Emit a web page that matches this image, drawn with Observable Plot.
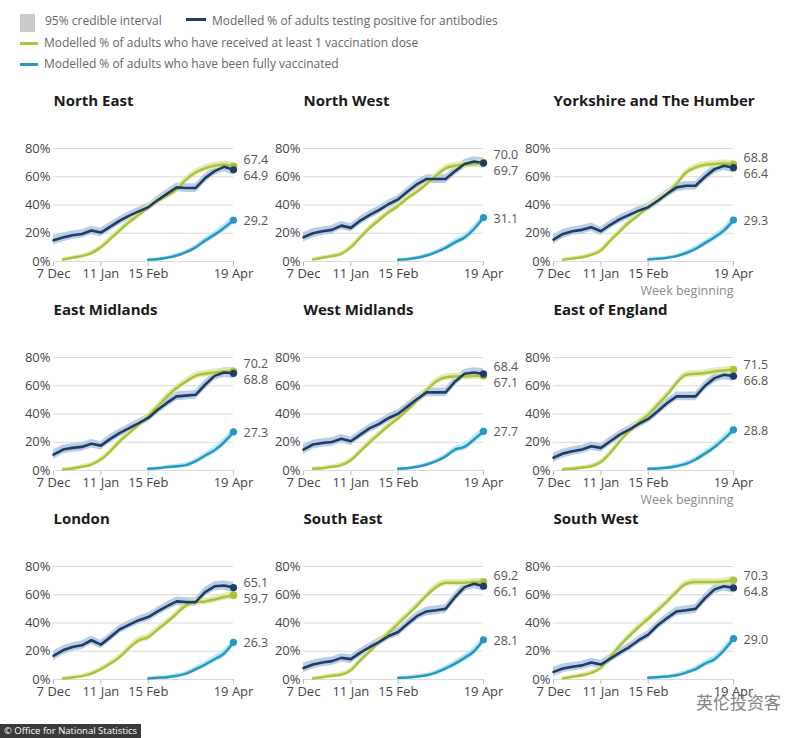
<!DOCTYPE html>
<html>
<head>
<meta charset="utf-8">
<script src="https://cdn.jsdelivr.net/npm/d3@7"></script>
<script src="https://cdn.jsdelivr.net/npm/@observablehq/plot@0.6"></script>
<style>
  html, body { margin: 0; padding: 0; background: #fff; }
  #root { position: relative; width: 800px; height: 738px; overflow: hidden; font-family: "Open Sans", sans-serif; background: #fff; }
  .panel { position: absolute; width: 250px; height: 209px; }
  .panel svg { overflow: visible; }
  [aria-label^="x-axis"] line, [aria-label="x-axis tick"] path { stroke: #bdbdbd; }
  .leg { position: absolute; font-size: 12px; color: #666; white-space: nowrap; line-height: 14px; }
  .sw { position: absolute; }
</style>
</head>
<body>
<div id="root"></div>
<script>
// ---------- data ----------
const weeks = ["2020-12-07","2020-12-14","2020-12-21","2020-12-28","2021-01-04","2021-01-11","2021-01-18","2021-01-25",
  "2021-02-01","2021-02-08","2021-02-15","2021-02-22","2021-03-01","2021-03-08","2021-03-15","2021-03-22","2021-03-29",
  "2021-04-05","2021-04-12","2021-04-19"];
const tickWeeks = ["2020-12-07","2021-01-11","2021-02-15","2021-04-19"];
const tickLabels = ["7 Dec","11 Jan","15 Feb","19 Apr"];
const yTicks = [0, 20, 40, 60, 80];

const regions = ["North East","North West","Yorkshire and The Humber","East Midlands","West Midlands",
  "East of England","London","South East","South West"];

// Modelled % of adults testing positive for antibodies (weekly)
const antibodies = [
  [15,17,18.6,19.5,22,20.5,24.7,29,32.5,35.5,38.4,43.5,48,52.5,52,52,59,64,67,64.9],
  [17.2,20,21.4,22.4,25.4,23.8,29,33,36.5,40.7,44,49.6,54.8,58.4,58.4,58.4,64,69,70.8,69.7],
  [15.5,19.5,21.4,22.4,24.2,21.4,26,30,33,36,38.4,43,48,52.5,53.6,53.6,60,65.4,67.8,66.4],
  [11.3,14.8,16,16.7,19,17.6,22.4,26.6,30,33.6,37.2,43,48,52.5,53,53.6,60.7,67,69.4,68.8],
  [14.8,18.4,19.5,20.2,22.4,20.7,25.4,30,33,37.2,40.2,45.4,50.6,55.3,55.3,55.3,63,68.5,69.4,68.4],
  [9,12,13.6,14.8,17.2,16,20.7,25.4,29,33,36.5,42,47.8,52.5,52.5,52.5,60,65.4,67.8,66.8],
  [16.7,20.7,23,24.2,27.8,24.7,30,35.5,38.8,42,44.2,48.2,52,55.3,54.8,54.8,61.9,66,66.6,65.1],
  [8.2,10.6,12,13,15.3,14.4,19,23,26.6,30.8,33.6,39.5,45,48.2,49,50,58.4,65.4,67.8,66.1],
  [5.4,7.8,9,10,12,10.6,14.8,19,23,27.8,31.8,38.4,43.5,48.2,49,50,57.6,63.8,66,64.8]
];
// Modelled % of adults who have received at least 1 vaccination dose
const firstDose = [
  [null,1.4,2.6,3.8,6,10,16,22,28,33,38.4,43,46.6,51,58,63,66,67.8,68.5,67.4],
  [null,1.4,2.6,3.8,5.4,10,17,23.8,29.4,35,39.5,45,49.6,55,60.7,66,67.8,68.5,69,70.0],
  [null,1.2,2.1,3,4.7,7.8,14.8,21.4,27.8,33,38.4,43,47.8,55,63,66.6,68.5,69,69.4,68.8],
  [null,0.7,1.4,2.6,4.2,7.8,13.6,20.7,26.6,32.5,38.4,45.4,52.5,58.4,63,67,68.5,69.4,70.1,70.2],
  [null,1.2,1.6,2.6,3.8,7.3,13.6,20,26,31.8,37.2,43,49.6,56.7,63,66,66.6,66.6,67,67.1],
  [null,0.7,1.2,2.1,3,6,12.5,20.7,27.8,34,39.5,46.6,53.6,62,67.8,68.5,69,70.1,70.8,71.5],
  [null,0.7,1.4,2.4,4.2,7.3,11.3,16,22.4,27.8,30,35.5,40.7,46.6,52.5,54.8,55.3,56.7,58.4,59.7],
  [null,0.7,1.6,2.6,3.5,6.6,13.6,20,26.6,33,39.5,45.9,52.5,59.5,65.4,68.5,68.5,68.5,69,69.2],
  [null,0.7,1.9,3,4.7,8.2,16,23.8,30.8,37.2,43,49,55.3,62,67.8,69,69,69,69.4,70.3]
];
// Modelled % of adults who have been fully vaccinated
const fullyVaccinated = [
  [null,null,null,null,null,null,null,null,null,null,1.2,1.6,2.6,4.2,6.6,10,14.8,19,23.8,29.2],
  [null,null,null,null,null,null,null,null,null,null,1.2,1.6,2.6,4.2,6.6,9.6,13.6,17,23,31.1],
  [null,null,null,null,null,null,null,null,null,null,1.4,1.9,2.6,3.8,6,9,13,17.2,22,29.3],
  [null,null,null,null,null,null,null,null,null,null,1.2,1.6,2.4,3,3.8,6.6,10.6,14.4,20,27.3],
  [null,null,null,null,null,null,null,null,null,null,1.2,1.6,2.6,4.2,6.6,10,14.8,16.7,22,27.7],
  [null,null,null,null,null,null,null,null,null,null,1.2,1.4,1.9,3,4.7,7.8,12,16.7,22.4,28.8],
  [null,null,null,null,null,null,null,null,null,null,0.7,1.2,1.6,2.6,4.2,7.3,10.6,14.4,18.4,26.3],
  [null,null,null,null,null,null,null,null,null,null,1.2,1.4,2.1,3,4.9,7.8,11.3,15.3,20,28.1],
  [null,null,null,null,null,null,null,null,null,null,1.2,1.6,2.1,3,4.9,7.3,11.3,14.4,20.7,29.0]
];
// approximate half-widths of the 95% credible intervals (percentage points), read from the bands
const antibodyCI = [3.4,3.1,3,3,3,3,3,2.9,2.9,2.9,2.9,3,3,3.1,3.1,3.1,3.2,3.2,3.4,3.8];
const firstDoseCI = [null,1.3,1.3,1.4,1.6,1.8,2,2.1,2.2,2.3,2.3,2.3,2.3,2.3,2.3,2.3,2.3,2.4,2.5,2.7];
const fullCI = [null,null,null,null,null,null,null,null,null,null,1,1.1,1.2,1.4,1.6,1.9,2.2,2.5,2.8,3.3];

// ---------- styling ----------
const C = {
  anti: "#1f3d62", antiBand: "#b2c6e4",
  dose: "#abc33c", doseBand: "#dde9a6",
  full: "#2898c2", fullBand: "#aee5f4"
};
const W = 250, H = 209, ML = 53, MR = 17, MT = 63, MB = 33;
const innerH = H - MT - MB;
const pxPer = innerH / 80;
const tickMap = new Map(tickWeeks.map((t, i) => [new Date(t).getTime(), tickLabels[i]]));

function panel(i, col, row) {
  const rows = weeks.map((w, k) => ({
    date: new Date(w),
    anti: antibodies[i][k], antiLo: antibodies[i][k] - antibodyCI[k], antiHi: antibodies[i][k] + antibodyCI[k],
    dose: firstDose[i][k], doseLo: firstDose[i][k] == null ? null : firstDose[i][k] - firstDoseCI[k],
    doseHi: firstDose[i][k] == null ? null : firstDose[i][k] + firstDoseCI[k],
    full: fullyVaccinated[i][k], fullLo: fullyVaccinated[i][k] == null ? null : fullyVaccinated[i][k] - fullCI[k],
    fullHi: fullyVaccinated[i][k] == null ? null : fullyVaccinated[i][k] + fullCI[k]
  }));
  const doseRows = rows.filter(d => d.dose != null);
  const fullRows = rows.filter(d => d.full != null);
  const last = rows[rows.length - 1];

  // label dodging for the two upper end labels
  const pa = (80 - last.anti) * pxPer, pd = (80 - last.dose) * pxPer;
  const mid = (pa + pd) / 2;
  const antiTop = last.anti >= last.dose;
  let dyA = 0, dyD = 0;
  if (Math.abs(pa - pd) < 16) {
    dyA = (antiTop ? mid - 8 : mid + 8) - pa;
    dyD = (antiTop ? mid + 8 : mid - 8) - pd;
  }
  const lab = (v) => v.toFixed(1);

  const marks = [
    Plot.ruleY(yTicks, {stroke: "#dadada", strokeWidth: 1}),
    Plot.areaY(rows, {x: "date", y1: "antiLo", y2: "antiHi", fill: C.antiBand, fillOpacity: 0.9}),
    Plot.areaY(doseRows, {x: "date", y1: "doseLo", y2: "doseHi", fill: C.doseBand, fillOpacity: 0.85, curve: "monotone-x"}),
    Plot.areaY(fullRows, {x: "date", y1: "fullLo", y2: "fullHi", fill: C.fullBand, fillOpacity: 0.85, curve: "monotone-x"}),
    Plot.line(doseRows, {x: "date", y: "dose", stroke: C.dose, strokeWidth: 2.5, curve: "monotone-x"}),
    Plot.line(fullRows, {x: "date", y: "full", stroke: C.full, strokeWidth: 2.5, curve: "monotone-x"}),
    Plot.line(rows, {x: "date", y: "anti", stroke: C.anti, strokeWidth: 2.6}),
    Plot.dot([last], {x: "date", y: "dose", r: 3.8, fill: C.dose}),
    Plot.dot([last], {x: "date", y: "full", r: 3.6, fill: C.full}),
    Plot.dot([last], {x: "date", y: "anti", r: 3.6, fill: C.anti}),
    Plot.text([last], {x: "date", y: "anti", text: d => lab(d.anti), dx: 10, dy: dyA, textAnchor: "start", fill: "#555", fontSize: 12.5}),
    Plot.text([last], {x: "date", y: "dose", text: d => lab(d.dose), dx: 10, dy: dyD, textAnchor: "start", fill: "#555", fontSize: 12.5}),
    Plot.text([last], {x: "date", y: "full", text: d => lab(d.full), dx: 10, dy: 1, textAnchor: "start", fill: "#555", fontSize: 12.5}),
    Plot.text([regions[i]], {frameAnchor: "top-left", text: d => d, dy: -47, textAnchor: "start", lineAnchor: "middle",
      fontWeight: "bold", fontSize: 15, fill: "#1a1a1a"})
  ];
  if (col === 2 && row < 2) {
    marks.push(Plot.text(["Week beginning"], {frameAnchor: "bottom-right", text: d => d, dy: 29, textAnchor: "end",
      lineAnchor: "middle", fill: "#8a8a8a", fontSize: 12.5}));
  }

  return Plot.plot({
    width: W, height: H, marginLeft: ML, marginRight: MR, marginTop: MT, marginBottom: MB,
    style: {fontFamily: "Open Sans", fontSize: "13px", color: "#444", background: "transparent", overflow: "visible"},
    x: {type: "utc", domain: [new Date(weeks[0]), new Date(weeks[weeks.length - 1])],
        ticks: tickWeeks.map(t => new Date(t)), tickFormat: d => tickMap.get(d.getTime()),
        tickSize: 5, tickPadding: 2, label: null},
    y: {domain: [0, 80], ticks: yTicks, tickFormat: d => d + "%", tickSize: 0, tickPadding: 3, label: null},
    marks
  });
}

// ---------- layout ----------
const root = document.getElementById("root");
function addDiv(cls, css, html) {
  const d = document.createElement("div");
  d.className = cls;
  Object.assign(d.style, css);
  if (html != null) d.innerHTML = html;
  root.appendChild(d);
  return d;
}
// legend
addDiv("sw", {left: "20px", top: "14px", width: "15px", height: "18px", background: "#c9c9c9"});
addDiv("leg", {left: "45px", top: "14px"}, "95% credible interval");
addDiv("sw", {left: "186px", top: "18px", width: "20px", height: "3px", background: C.anti});
addDiv("leg", {left: "212px", top: "14px"}, "Modelled % of adults testing positive for antibodies");
addDiv("sw", {left: "20px", top: "42px", width: "18px", height: "3px", background: C.dose});
addDiv("leg", {left: "44px", top: "36px"}, "Modelled % of adults who have received at least 1 vaccination dose");
addDiv("sw", {left: "20px", top: "63px", width: "18px", height: "3px", background: C.full});
addDiv("leg", {left: "44px", top: "57px"}, "Modelled % of adults who have been fully vaccinated");

// panels
regions.forEach((r, i) => {
  const col = i % 3, row = Math.floor(i / 3);
  const d = addDiv("panel", {left: (col * 250) + "px", top: (85 + row * 209) + "px"});
  d.appendChild(panel(i, col, row));
});

// source tag and watermark
addDiv("leg", {left: "0px", top: "724px", background: "#3a3a3a", color: "#fff", fontSize: "9.5px",
  padding: "0 4px", lineHeight: "14px"}, "© Office for National Statistics");
addDiv("leg", {left: "696px", top: "691px", color: "#6d6d6d", fontSize: "17px", lineHeight: "22px",
  fontFamily: "'Noto Sans CJK SC', sans-serif", opacity: "0.85"}, "英伦投资客");
</script>
</body>
</html>
